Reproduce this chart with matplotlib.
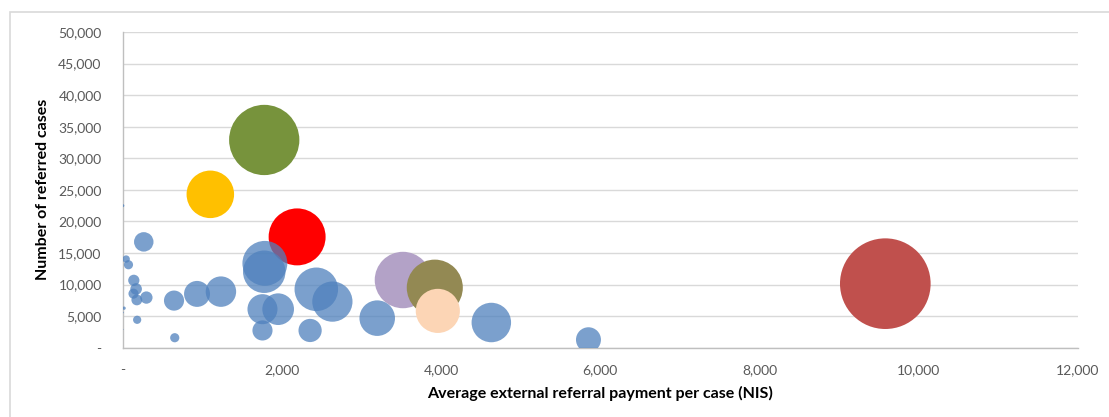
import matplotlib.pyplot as plt
from matplotlib.patches import Rectangle
from matplotlib.ticker import FuncFormatter, MultipleLocator

plt.rcParams['font.family'] = ['Lato', 'DejaVu Sans']

# average payment per case (NIS), number of cases, total payment (M NIS)
blue_x = [1788, 1780, 2434, 2636, 1758, 1955, 1758, 2356, 1236, 936, 647, 656,
          267, 46, 75, 142, 171, 138, 180, 300, 184, 5, 20, 5, 5,
          3199, 4632, 5852]
blue_y = [13360, 12030, 9250, 7300, 6100, 6100, 2730, 2730, 8880, 8520, 7460, 1580,
          16760, 14040, 13140, 10670, 9300, 8560, 7570, 7940, 4420, 22500, 6260, 5570, 2890,
          4680, 3990, 1260]
blue_total = [23.9, 21.4, 22.5, 19.2, 10.7, 11.9, 4.8, 6.4, 11.0, 8.0, 4.8, 1.0,
              4.5, 0.65, 1.0, 1.5, 1.6, 1.2, 1.4, 1.8, 0.8, 0.1, 0.13, 0.03, 0.015,
              15.0, 18.5, 7.4]

hl_x = [2193, 1103, 1780, 3522, 3922, 3960, 9580]
hl_y = [17550, 24290, 32900, 10720, 9510, 5830, 10140]
hl_total = [38.5, 26.8, 58.6, 37.8, 37.3, 23.1, 97.5]
hl_colors = ['#FF0000', '#FFC000', '#77933C', '#B3A2C7', '#938953', '#FCD5B5', '#C0504D']

DPI = 100
scale = (2 * 4.59 * 72 / DPI) ** 2

fig = plt.figure(figsize=(11.09, 4.17), dpi=DPI)
fig.patches.append(Rectangle((10 / 1109, -0.1), 1.2, 1 - 12 / 417 + 0.1,
                             transform=fig.transFigure, fill=False,
                             edgecolor='#D9D9D9', linewidth=1.2))
ax = fig.add_axes([122.5 / 1109, 1 - 347.7 / 417, (1078 - 122.5) / 1109, (347.7 - 32) / 417])

ax.scatter(hl_x, hl_y, s=[t * scale for t in hl_total], c=hl_colors,
           linewidths=0, zorder=2)
ax.scatter(blue_x, blue_y, s=[t * scale for t in blue_total], c='#4F81BD',
           alpha=0.75, linewidths=0, zorder=3)

ax.set_xlim(0, 12000)
ax.set_ylim(0, 50000)
ax.xaxis.set_major_locator(MultipleLocator(2000))
ax.yaxis.set_major_locator(MultipleLocator(5000))
fmt = FuncFormatter(lambda v, p: '-' if v == 0 else f'{v:,.0f}')
ax.xaxis.set_major_formatter(fmt)
ax.yaxis.set_major_formatter(fmt)
ax.tick_params(length=0, labelsize=10, labelcolor='#595959')
ax.tick_params(axis='x', pad=12)
ax.tick_params(axis='y', pad=15)

ax.grid(axis='y', color='#D9D9D9', linewidth=1)
ax.set_axisbelow(True)
for s in ['top', 'right']:
    ax.spines[s].set_visible(False)
for s in ['left', 'bottom']:
    ax.spines[s].set_color('#BFBFBF')
    ax.spines[s].set_linewidth(1)

ax.set_xlabel('Average external referral payment per case (NIS)',
              fontsize=11.5, fontweight='bold', labelpad=7)
ax.set_ylabel('Number of referred cases', fontsize=11.5, fontweight='bold', labelpad=6)

fig.savefig('out.png', dpi=DPI)
